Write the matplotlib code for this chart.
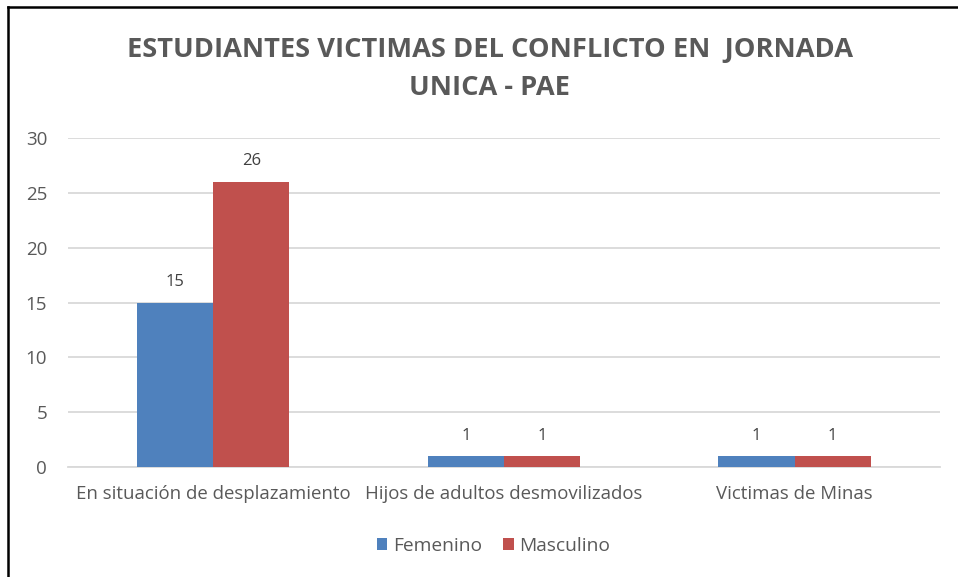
import matplotlib.pyplot as plt
from matplotlib.lines import Line2D
import numpy as np

categorias = ['En situación de desplazamiento', 'Hijos de adultos desmovilizados', 'Victimas de Minas']
femenino = [15, 1, 1]
masculino = [26, 1, 1]
series = ['Femenino', 'Masculino']
y_ticks = [0, 5, 10, 15, 20, 25, 30]
titulo = 'ESTUDIANTES VICTIMAS DEL CONFLICTO EN  JORNADA\nUNICA - PAE'


def main():
    plt.rcParams['font.family'] = ['Open Sans', 'DejaVu Sans']
    gris = '#595959'
    colores = ['#4F81BD', '#C0504D']

    fig = plt.figure(figsize=(9.58, 5.77), dpi=100)
    ax = fig.add_axes([0.071, 0.1906, 0.910, 0.5702])

    x = np.arange(len(categorias))
    ancho = 0.262
    b1 = ax.bar(x - ancho / 2, femenino, ancho, color=colores[0], label=series[0], zorder=3)
    b2 = ax.bar(x + ancho / 2, masculino, ancho, color=colores[1], label=series[1], zorder=3)
    for b in (b1, b2):
        ax.bar_label(b, padding=9, fontsize=12, color='#404040')

    ax.set_xlim(-0.5, len(categorias) - 0.5)
    ax.set_ylim(0, 30)
    ax.set_yticks(y_ticks)
    ax.set_xticks(x)
    ax.set_xticklabels(categorias)
    ax.grid(axis='y', color='#D9D9D9', linewidth=1.3, zorder=0)
    ax.tick_params(axis='y', length=0, pad=15, labelsize=13.5, labelcolor=gris)
    ax.tick_params(axis='x', length=0, pad=13, labelsize=13.4, labelcolor=gris)
    for s in ['top', 'right', 'left']:
        ax.spines[s].set_visible(False)
    ax.spines['bottom'].set_color('#D9D9D9')
    ax.spines['bottom'].set_linewidth(1.3)

    fig.text(0.511, 0.881, titulo, ha='center', va='center', fontsize=19.6,
             fontweight='bold', color=gris, linespacing=1.6)

    ax.legend(loc='center', bbox_to_anchor=(0.515, 0.054), bbox_transform=fig.transFigure,
              ncol=2, frameon=False, fontsize=13.8, labelcolor=gris,
              handlelength=0.55, handleheight=0.55, handletextpad=0.3, columnspacing=1.1)

    # marco del grafico
    fig.add_artist(Line2D([8 / 958, 1], [1 - 7 / 577, 1 - 7 / 577], color='black', linewidth=1.8))
    fig.add_artist(Line2D([8 / 958, 8 / 958], [0, 1 - 7 / 577], color='black', linewidth=1.8))

    fig.savefig('out.png', dpi=100)


if __name__ == "__main__":
    main()
